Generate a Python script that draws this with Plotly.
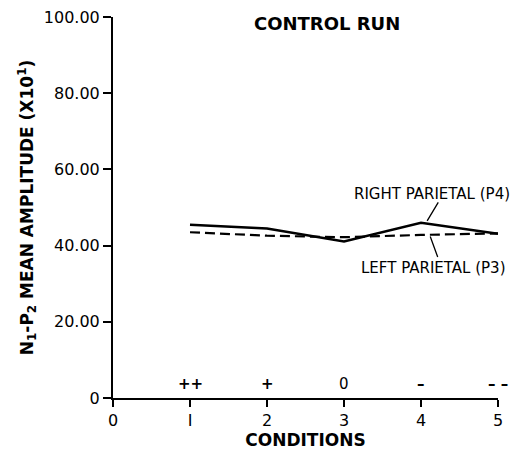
import plotly.graph_objects as go

conditions = [1, 2, 3, 4, 5]
right_parietal = [45.5, 44.5, 41.1, 46.0, 43.1]
left_parietal = [43.5, 42.6, 42.2, 42.8, 43.2]
condition_symbols = ["<b>++</b>", "<b>+</b>", "0", "<b>\u2013</b>", "<b>\u2013 \u2013</b>"]
y_tick_vals = [0, 20, 40, 60, 80, 100]
y_tick_text = ["0", "20.00", "40.00", "60.00", "80.00", "100.00"]
x_tick_vals = [0, 1, 2, 3, 4, 5]
x_tick_text = ["0", "I", "2", "3", "4", "5"]

FONT = "DejaVu Sans"

fig = go.Figure()
fig.add_trace(go.Scatter(x=conditions, y=right_parietal, mode="lines",
                         line=dict(color="black", width=2.5), showlegend=False))
fig.add_trace(go.Scatter(x=conditions, y=left_parietal, mode="lines",
                         line=dict(color="black", width=2.2, dash="10px,5px"), showlegend=False))

annotations = []
for xv, s in zip(conditions, condition_symbols):
    annotations.append(dict(x=xv, y=0, text=s, showarrow=False,
                            yanchor="bottom", yshift=3, font=dict(size=15, color="black", family=FONT)))

annotations.append(dict(x=1, y=(398 - 193) / 382, xref="paper", yref="paper",
                        text="RIGHT PARIETAL (P4)",
                        showarrow=False, xanchor="right", yanchor="middle", xshift=14,
                        font=dict(size=15, color="black", family=FONT)))
annotations.append(dict(x=1, y=(398 - 268) / 382, xref="paper", yref="paper",
                        text="LEFT PARIETAL (P3)",
                        showarrow=False, xanchor="right", yanchor="middle", xshift=9,
                        font=dict(size=15, color="black", family=FONT)))
# leader lines
annotations.append(dict(x=4.08, y=46.5, text="", showarrow=True, arrowhead=0, arrowwidth=1.3,
                        arrowcolor="black", ax=12, ay=-20))
annotations.append(dict(x=4.12, y=42.4, text="", showarrow=True, arrowhead=0, arrowwidth=1.3,
                        arrowcolor="black", ax=8, ay=22))
annotations.append(dict(x=(330 - 113) / 390, y=(398 - 23) / 382, xref="paper", yref="paper",
                        text="<b>CONTROL RUN</b>",
                        showarrow=False, xanchor="center", yanchor="middle",
                        font=dict(size=18, color="black", family=FONT)))

fig.update_layout(
    width=511, height=457,
    margin=dict(l=113, r=8, t=16, b=59),
    plot_bgcolor="white", paper_bgcolor="white",
    font=dict(family=FONT, color="black", size=16),
    annotations=annotations,
    xaxis=dict(range=[0, 5], tickvals=x_tick_vals, ticktext=x_tick_text,
               showgrid=False, zeroline=False, showline=True, linecolor="black", linewidth=2,
               ticks="outside", ticklen=7, tickwidth=2, tickcolor="black",
               tickfont=dict(size=16, family=FONT),
               title=dict(text="<b>CONDITIONS</b>", font=dict(size=17, family=FONT), standoff=4)),
    yaxis=dict(range=[0, 100], tickvals=y_tick_vals, ticktext=y_tick_text,
               showgrid=False, zeroline=False, showline=True, linecolor="black", linewidth=2,
               ticks="outside", ticklen=8, tickwidth=2, tickcolor="black",
               tickfont=dict(size=16, family=FONT),
               title=dict(text="<b>N<sub>1</sub>-P<sub>2</sub> MEAN AMPLITUDE (X10<sup>1</sup>)</b>",
                          font=dict(size=17, family=FONT), standoff=6)),
)

fig.write_html("out.html")
